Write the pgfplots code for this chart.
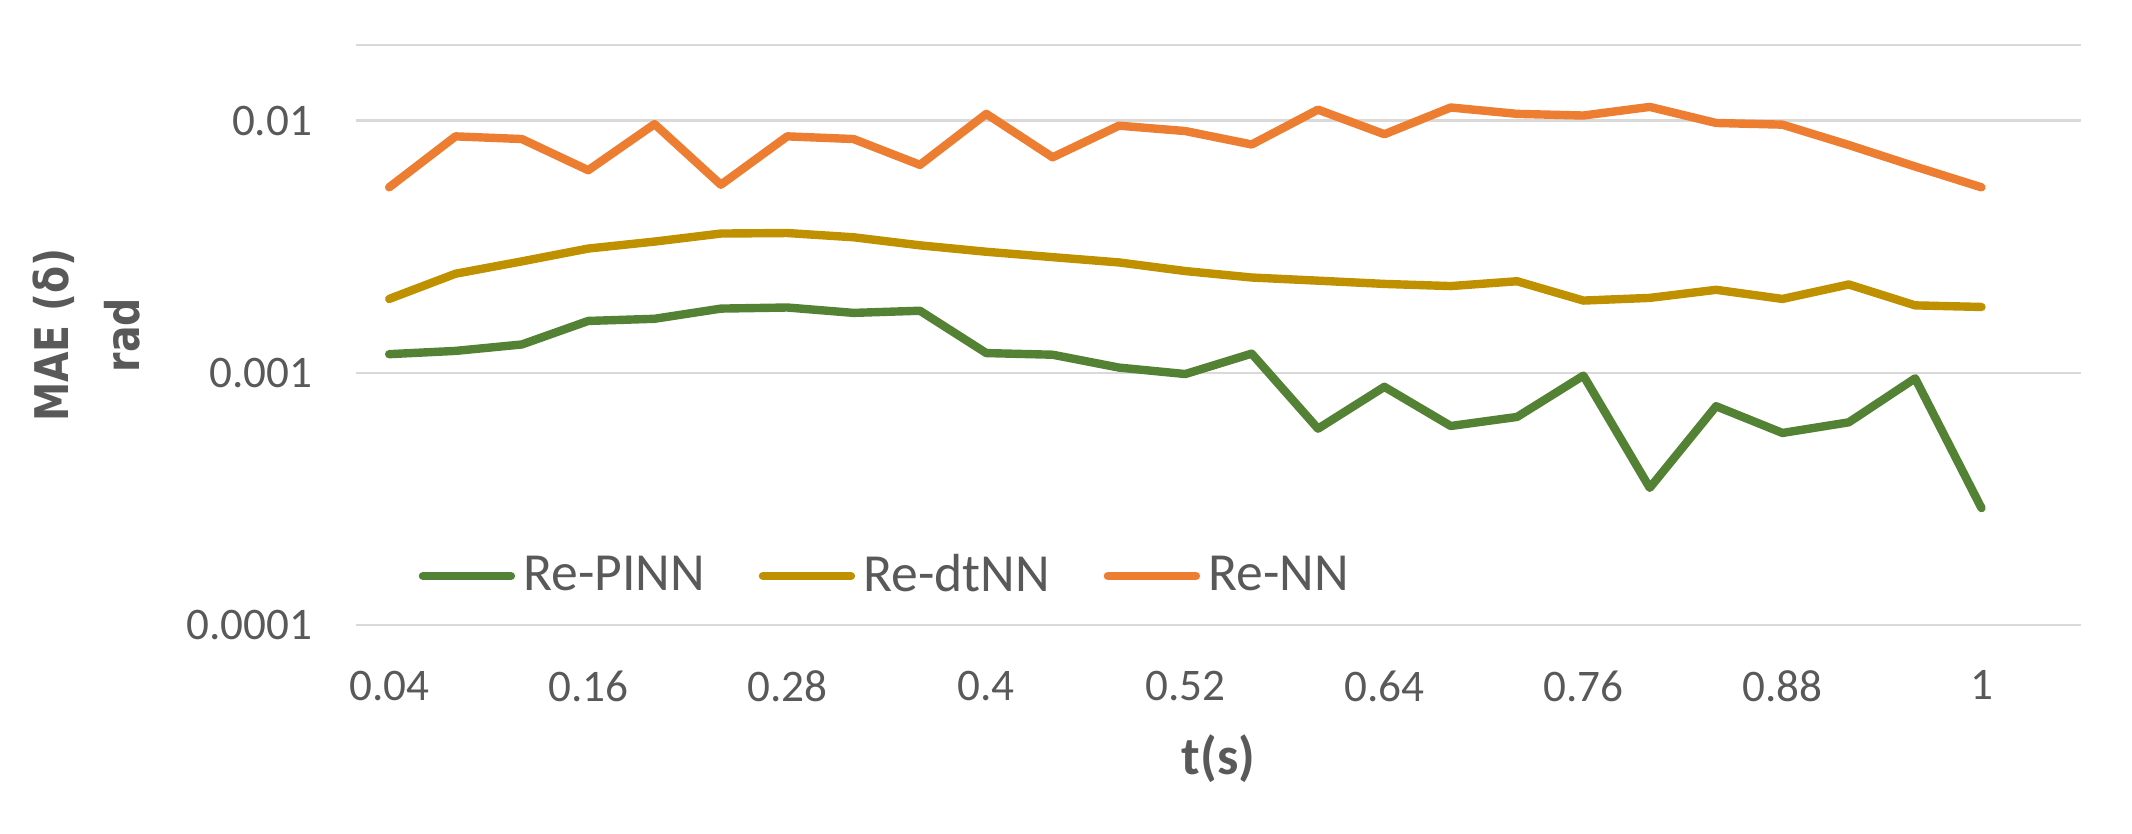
\documentclass[border=0pt]{standalone}
\usepackage{fontspec}
\setmainfont{Carlito}
\newfontfamily\ylabfont{DejaVu Sans}[FakeStretch=0.85]
\usepackage{pgfplots}
\usepackage{pgfplotstable}
\pgfplotsset{compat=1.18}
\definecolor{cgreen}{HTML}{548235}
\definecolor{cgold}{HTML}{BF9000}
\definecolor{corange}{HTML}{ED7D31}
\definecolor{cgrid}{HTML}{D9D9D9}
\definecolor{ctext}{HTML}{595959}

\pgfplotstableread{
t     pinn      dtnn      nn
0.04  0.001187  0.001966  0.00545
0.08  0.001223  0.002475  0.00868
0.12  0.001297  0.002771  0.00847
0.16  0.001608  0.003115  0.00637
0.20  0.001640  0.003320  0.00971
0.24  0.001800  0.003573  0.00558
0.28  0.001818  0.003590  0.00868
0.32  0.001731  0.003453  0.00847
0.36  0.001765  0.003208  0.00669
0.40  0.001199  0.003025  0.01066
0.44  0.001181  0.002880  0.00717
0.48  0.001050  0.002744  0.00957
0.52  0.000990  0.002536  0.00911
0.56  0.001193  0.002391  0.00806
0.60  0.000601  0.002323  0.01108
0.64  0.000881  0.002255  0.00885
0.68  0.000616  0.002211  0.01130
0.72  0.000669  0.002311  0.01066
0.76  0.000976  0.001937  0.01050
0.80  0.000350  0.001985  0.01136
0.84  0.000738  0.002137  0.00981
0.88  0.000578  0.001966  0.00966
0.92  0.000637  0.002244  0.00802
0.96  0.000952  0.001854  0.00659
1.00  0.000291  0.001827  0.00545
}\datatable

\begin{document}
\begin{tikzpicture}
\useasboundingbox (0,0) rectangle (533pt,208.5pt);
\begin{axis}[
  at={(89pt,52.25pt)}, anchor=south west,
  scale only axis, width=431.25pt, height=145pt,
  ymode=log, xmin=0.02, xmax=1.06, ymin=1e-4, ymax=0.02,
  axis line style={draw=none},
  major tick length=0pt, minor tick length=0pt,
  ytick={1e-4,1e-3,1e-2}, yticklabels={0.0001,0.001,0.01},
  xtick={0.04,0.16,0.28,0.4,0.52,0.64,0.76,0.88,1},
  xticklabels={0.04,0.16,0.28,0.4,0.52,0.64,0.76,0.88,1},
  ymajorgrids, yminorgrids=false, xmajorgrids=false,
  grid style={cgrid, line width=0.7pt},
  extra y ticks={0.02}, extra y tick labels={}, extra y tick style={grid=major},
  yticklabel style={font=\fontsize{11.3}{13}\selectfont, text=ctext, inner sep=0pt, anchor=east, xshift=-10.75pt},
  xticklabel style={font=\fontsize{11.3}{13}\selectfont, text=ctext, inner sep=0pt, anchor=north, yshift=-11.25pt},
  xlabel={t(s)},
  xlabel style={at={(rel axis cs:0.5,-0.231)}, anchor=center, font=\fontsize{13.4}{16}\selectfont\bfseries, text=ctext},
  ylabel={MAE (δ)\\rad},
  ylabel style={at={(rel axis cs:-0.1563,0.5)}, anchor=center, align=center, font=\ylabfont\fontsize{11.6}{17.75}\selectfont\bfseries, text=ctext},
  legend columns=-1,
  legend style={at={(rel axis cs:0.0359,0.0845)}, anchor=west, draw=none, fill=none, inner sep=0pt,
    font=\fontsize{13.4}{16}\selectfont, text=ctext,
    /tikz/every even column/.append style={column sep=13.5pt},
    /tikz/every odd column/.append style={column sep=2pt},
    nodes={inner sep=0pt}},
  legend image code/.code={\draw[#1, line cap=round] (0pt,0pt) -- (22pt,0pt);},
  every axis plot/.append style={line width=2.1pt, line join=round, line cap=round, no marks},
]
\addplot[cgreen] table[x=t, y=pinn] {\datatable};
\addlegendentry{Re-PINN}
\addplot[cgold] table[x=t, y=dtnn] {\datatable};
\addlegendentry{Re-dtNN}
\addplot[corange] table[x=t, y=nn] {\datatable};
\addlegendentry{Re-NN}
\end{axis}
\end{tikzpicture}
\end{document}
